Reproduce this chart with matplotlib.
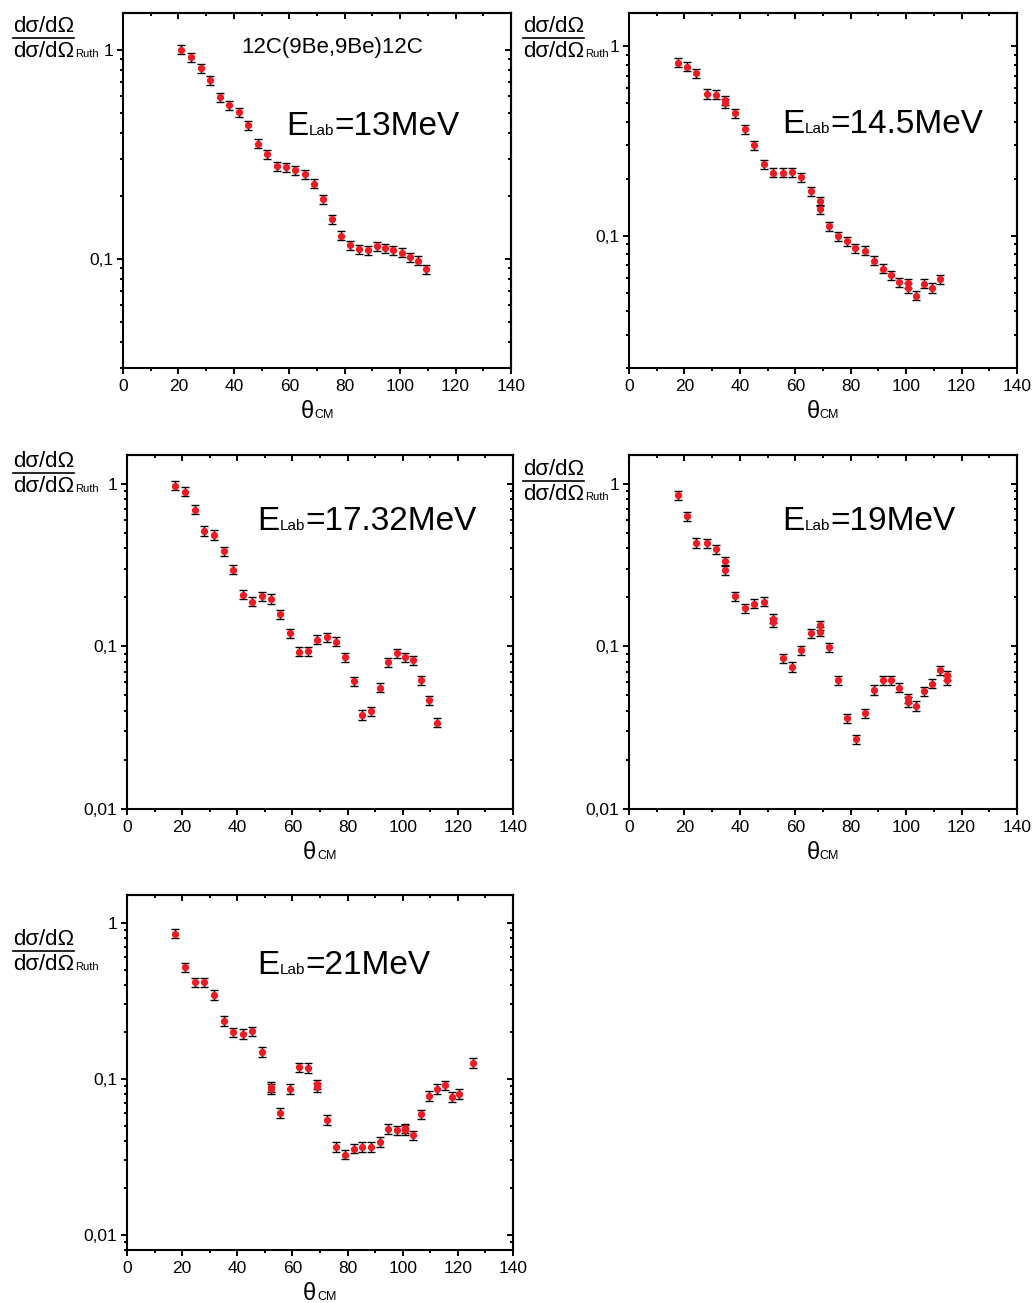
import matplotlib
matplotlib.use("Agg")
import matplotlib.pyplot as plt
from matplotlib.lines import Line2D
from matplotlib.ticker import MultipleLocator, FixedLocator, FuncFormatter, LogLocator, NullFormatter

plt.rcParams['font.family'] = ['Liberation Sans', 'DejaVu Sans']

W, H = 1033, 1303

# angular distributions (theta_CM in deg, ratio to Rutherford)
theta_13 = [20.8, 24.5, 28.0, 31.4, 34.9, 38.3, 41.8, 45.2, 48.7, 52.0, 55.4, 58.8, 62.2, 65.5,
            68.8, 72.2, 75.4, 78.7, 81.9, 85.1, 88.3, 91.6, 94.6, 97.6, 100.6, 103.6, 106.5, 109.4]
ratio_13 = [1.0, 0.92, 0.817, 0.713, 0.594, 0.543, 0.503, 0.436, 0.355, 0.317, 0.277, 0.275, 0.266, 0.254,
            0.229, 0.193, 0.155, 0.129, 0.116, 0.111, 0.110, 0.115, 0.112, 0.110, 0.107, 0.102, 0.098, 0.089]

theta_145 = [17.5, 21.0, 24.3, 28.0, 31.3, 34.8, 34.8, 38.2, 41.7, 45.2, 48.7, 52.0, 55.4, 58.8, 62.2,
             65.5, 68.9, 68.9, 72.2, 75.5, 78.8, 81.6, 85.1, 88.4, 91.6, 94.7, 97.6, 100.6, 100.6, 103.6,
             106.5, 109.4, 112.3]
ratio_145 = [0.82, 0.78, 0.72, 0.561, 0.556, 0.52, 0.50, 0.442, 0.364, 0.301, 0.238, 0.215, 0.215, 0.217, 0.204,
             0.172, 0.152, 0.138, 0.112, 0.0996, 0.0937, 0.0857, 0.0833, 0.0738, 0.067, 0.0618, 0.0568, 0.056, 0.053, 0.0481,
             0.0558, 0.053, 0.0591]

theta_1732 = [17.5, 21.0, 24.5, 28.0, 31.5, 35.0, 38.4, 41.9, 45.4, 48.8, 52.1, 55.6, 59.0, 62.4, 65.8,
              69.0, 72.4, 75.7, 78.9, 82.2, 85.4, 88.6, 91.7, 94.7, 97.8, 100.8, 103.8, 106.7, 109.6, 112.5]
ratio_1732 = [0.972, 0.893, 0.692, 0.512, 0.484, 0.384, 0.296, 0.208, 0.188, 0.204, 0.196, 0.157, 0.120, 0.0927, 0.0936,
              0.110, 0.1135, 0.107, 0.0856, 0.061, 0.0379, 0.040, 0.0557, 0.0798, 0.0906, 0.0859, 0.0824, 0.0618, 0.0468, 0.0340]

theta_19 = [17.5, 21.0, 24.3, 28.0, 31.3, 34.8, 34.8, 38.2, 41.7, 45.2, 48.7, 52.0, 52.0, 55.4, 58.8,
            62.2, 65.5, 68.9, 68.9, 72.2, 75.5, 78.8, 81.9, 85.2, 88.3, 91.6, 94.6, 97.6, 100.6, 100.6,
            103.6, 106.5, 109.4, 112.2, 114.9, 114.9]
ratio_19 = [0.848, 0.633, 0.432, 0.430, 0.395, 0.333, 0.295, 0.204, 0.171, 0.183, 0.188, 0.148, 0.141, 0.0846, 0.0748,
            0.0945, 0.120, 0.135, 0.123, 0.099, 0.0619, 0.0361, 0.0269, 0.0387, 0.054, 0.0617, 0.0617, 0.0558, 0.0478, 0.0456,
            0.0431, 0.0528, 0.0589, 0.0711, 0.0662, 0.062]

theta_21 = [17.5, 21.0, 24.5, 28.0, 31.5, 35.0, 38.4, 41.9, 45.4, 48.8, 52.1, 52.1, 55.6, 59.0, 62.4,
            65.8, 69.0, 69.0, 72.4, 75.7, 78.9, 82.2, 85.4, 88.6, 91.7, 94.7, 97.8, 100.8, 100.8, 103.8,
            106.7, 109.6, 112.5, 115.3, 117.9, 120.5, 125.6]
ratio_21 = [0.850, 0.516, 0.413, 0.413, 0.343, 0.234, 0.198, 0.193, 0.201, 0.149, 0.0884, 0.086, 0.0604, 0.0863, 0.118,
            0.117, 0.092, 0.088, 0.0547, 0.0367, 0.0327, 0.0357, 0.0367, 0.0367, 0.0394, 0.0476, 0.0468, 0.048, 0.047, 0.0433,
            0.0591, 0.0774, 0.0863, 0.0906, 0.0766, 0.0797, 0.126]

energies = ["13", "14.5", "17.32", "19", "21"]
thetas = [theta_13, theta_145, theta_1732, theta_19, theta_21]
ratios = [ratio_13, ratio_145, ratio_1732, ratio_19, ratio_21]
rel_errors = [0.05, 0.055, 0.065, 0.065, 0.07]
y_limits = [(0.03, 1.5), (0.02, 1.5), (0.01, 1.5), (0.01, 1.5), (0.008, 1.5)]
reaction = "12C(9Be,9Be)12C"

# layout in pixels of the 1033x1303 picture: axes box (left, top, right, bottom)
boxes = [(123, 13, 511, 368), (629, 13, 1017, 368), (127, 455, 513, 809),
         (629, 455, 1017, 809), (127, 895, 513, 1250)]
ylabel_spots = [(13, 38), (523, 38), (13, 473), (523, 481), (13, 951)]
energy_spots = [(286, 135), (782, 133), (257, 530), (782, 530), (257, 974)]

RED = '#ec1c24'


def put_pieces(fig, x_px, base_px, pieces, center=False):
    """Writes text pieces one after another on a common baseline (fig pixels from the top)"""
    r = fig.canvas.get_renderer()
    texts = []
    x = x_px
    for s, size in pieces:
        t = fig.text(x / W, 1 - base_px / H, s, fontsize=size, va='baseline', ha='left')
        x = t.get_window_extent(renderer=r).x1 + 0.5
        texts.append(t)
    if center:
        shift = (x - x_px) / 2
        for t in texts:
            t.set_x(t.get_position()[0] - shift / W)
    return texts


def add_ylabel(fig, x_px, line_px):
    r = fig.canvas.get_renderer()
    put_pieces(fig, x_px, line_px - 6, [("dσ/dΩ", 16)])
    low = put_pieces(fig, x_px, line_px + 19, [("dσ/dΩ", 16), ("Ruth", 8)])
    bb = low[0].get_window_extent(renderer=r)
    fig.add_artist(Line2D([bb.x0 / W, bb.x1 / W], [1 - line_px / H] * 2,
                          transform=fig.transFigure, color='black', lw=1.2))


def style_axes(ax, ylim):
    ax.set_xlim(0, 140)
    ax.set_yscale('log')
    ax.set_ylim(*ylim)
    comma = FuncFormatter(lambda v, p: ('%g' % v).replace('.', ','))
    ax.xaxis.set_major_locator(MultipleLocator(20))
    ax.xaxis.set_minor_locator(MultipleLocator(10))
    ax.yaxis.set_major_locator(FixedLocator([0.01, 0.1, 1]))
    ax.yaxis.set_minor_locator(LogLocator(subs=range(2, 10)))
    ax.yaxis.set_major_formatter(comma)
    ax.yaxis.set_minor_formatter(NullFormatter())
    ax.tick_params(which='both', direction='out', width=1.4, labelsize=12.5, top=False, right=False)
    ax.tick_params(which='major', length=4)
    ax.tick_params(which='minor', length=2.5)
    ax.tick_params(axis='x', pad=4)
    ax.tick_params(axis='y', pad=3)
    for s in ax.spines.values():
        s.set_linewidth(1.5)

    # top and right ticks point inwards
    top = ax.secondary_xaxis('top')
    top.xaxis.set_major_locator(MultipleLocator(20))
    top.xaxis.set_minor_locator(MultipleLocator(10))
    top.xaxis.set_major_formatter(NullFormatter())
    top.tick_params(which='both', direction='in', width=1.4)
    top.tick_params(which='major', length=4)
    top.tick_params(which='minor', length=2.5)
    right = ax.secondary_yaxis('right')
    right.yaxis.set_major_locator(FixedLocator([0.01, 0.1, 1]))
    right.yaxis.set_minor_locator(LogLocator(subs=range(2, 10)))
    right.yaxis.set_major_formatter(NullFormatter())
    right.yaxis.set_minor_formatter(NullFormatter())
    right.tick_params(which='both', direction='in', width=1.4)
    right.tick_params(which='major', length=4)
    right.tick_params(which='minor', length=2.5)
    for sec in (top, right):
        for s in sec.spines.values():
            s.set_linewidth(1.5)


def main():
    fig = plt.figure(figsize=(W / 100, H / 100), dpi=100)

    for i in range(len(energies)):
        left, top, right, bottom = boxes[i]
        ax = fig.add_axes([left / W, 1 - bottom / H, (right - left) / W, (bottom - top) / H])
        style_axes(ax, y_limits[i])
        yerr = [v * rel_errors[i] for v in ratios[i]]
        ax.errorbar(thetas[i], ratios[i], yerr=yerr, fmt='o', ms=4.2, mfc=RED, mec=RED,
                    ecolor='black', elinewidth=1, capsize=2.8, capthick=1)

        add_ylabel(fig, *ylabel_spots[i])
        ex, ey = energy_spots[i]
        put_pieces(fig, ex, ey, [("E", 24), ("Lab", 11), ("=" + energies[i] + "MeV", 24)])
        put_pieces(fig, (left + right) / 2, bottom + 50, [("θ", 17), ("CM", 9)], center=True)

    put_pieces(fig, 241, 53, [(reaction, 16)])

    fig.savefig("out.png", dpi=100)
    plt.close(fig)


if __name__ == "__main__":
    main()
